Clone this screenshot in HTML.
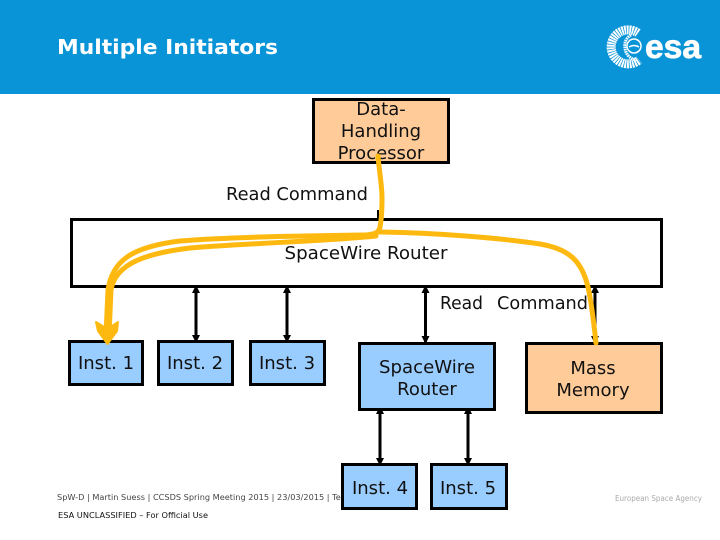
<!DOCTYPE html>
<html>
<head>
<meta charset="utf-8">
<style>
html,body{margin:0;padding:0;background:#fff}
svg{display:block}
text{font-family:"DejaVu Sans","Liberation Sans",sans-serif;fill:#111}
</style>
</head>
<body>
<svg width="720" height="540" viewBox="0 0 720 540" xmlns="http://www.w3.org/2000/svg">
<defs>
<marker id="a" viewBox="0 0 8 8" refX="7" refY="4" markerWidth="8" markerHeight="8" markerUnits="userSpaceOnUse" orient="auto-start-reverse"><path d="M0 0L8 4L0 8z" fill="#000"/></marker>
</defs>
<rect width="720" height="540" fill="#fff"/>
<rect width="720" height="94" fill="#0a94d8"/>
<text x="57" y="54" font-size="20" font-weight="bold" style="fill:#fff" textLength="221" lengthAdjust="spacingAndGlyphs">Multiple Initiators</text>

<!-- logo -->
<g fill="none" stroke="#fff" transform="translate(3,0)">
<path d="M635 33A17 17 0 1 0 636 60" stroke-width="9" stroke-dasharray="1.8 .7"/>
<path d="M628 35A12 12 0 0 0 622 48A13 13 0 0 0 634 60" stroke-width="3" stroke-dasharray="1.6 .7"/>
<circle cx="631" cy="46" r="7" stroke-width="1.500"/>
<path d="M626 47q5-3 10 0" stroke-width="1.500"/>
</g>
<text x="645" y="58" font-size="33" font-weight="bold" style="fill:#fff;stroke:#fff;stroke-width:.7;font-family:'Liberation Sans',sans-serif" textLength="56" lengthAdjust="spacingAndGlyphs">esa</text>

<!-- footer -->
<text x="57" y="500" font-size="8" style="fill:#444" textLength="300" lengthAdjust="spacingAndGlyphs">SpW-D | Martin Suess | CCSDS Spring Meeting 2015 | 23/03/2015 | Terma</text>
<text x="58" y="518" font-size="8" textLength="150" lengthAdjust="spacingAndGlyphs">ESA UNCLASSIFIED – For Official Use</text>
<text x="615" y="501" font-size="8" style="fill:#aaa" textLength="87" lengthAdjust="spacingAndGlyphs">European Space Agency</text>

<!-- connectors -->
<g stroke="#000" stroke-width="3">
<line x1="196" y1="286" x2="196" y2="342" marker-start="url(#a)" marker-end="url(#a)"/>
<line x1="287" y1="286" x2="287" y2="342" marker-start="url(#a)" marker-end="url(#a)"/>
<line x1="425.500" y1="286" x2="425.500" y2="343" marker-start="url(#a)" marker-end="url(#a)"/>
<line x1="595" y1="286" x2="595" y2="343" marker-start="url(#a)" marker-end="url(#a)"/>
<line x1="380" y1="407" x2="380" y2="465" marker-start="url(#a)" marker-end="url(#a)"/>
<line x1="468" y1="407" x2="468" y2="465" marker-start="url(#a)" marker-end="url(#a)"/>
</g>
<line x1="378" y1="210" x2="378" y2="219" stroke="#000" stroke-width="2"/>

<!-- boxes -->
<g stroke="#000" stroke-width="3">
<rect x="313.500" y="99.500" width="135" height="63" fill="#ffcc99"/>
<rect x="71.500" y="219.500" width="590" height="67" fill="#fff"/>
<rect x="69.500" y="341.500" width="73" height="43" fill="#99ccff"/>
<rect x="158.500" y="341.500" width="74" height="43" fill="#99ccff"/>
<rect x="250.500" y="341.500" width="74" height="43" fill="#99ccff"/>
<rect x="359.500" y="343.500" width="135" height="66" fill="#99ccff"/>
<rect x="526.500" y="343.500" width="135" height="69" fill="#ffcc99"/>
<rect x="342.500" y="464.500" width="74" height="44" fill="#99ccff"/>
<rect x="431.500" y="464.500" width="75" height="44" fill="#99ccff"/>
</g>

<!-- labels -->
<g font-size="18" text-anchor="middle">
<text x="381" y="115">Data-</text>
<text x="381" y="137">Handling</text>
<text x="381" y="159">Processor</text>
<text x="297" y="200" textLength="142" lengthAdjust="spacingAndGlyphs">Read Command</text>
<text x="366" y="259" textLength="163" lengthAdjust="spacingAndGlyphs">SpaceWire Router</text>
<text x="461.500" y="309" textLength="43" lengthAdjust="spacingAndGlyphs">Read</text>
<text x="542.500" y="309" textLength="91" lengthAdjust="spacingAndGlyphs">Command</text>
<text x="106" y="369">Inst. 1</text>
<text x="195" y="369">Inst. 2</text>
<text x="287" y="369">Inst. 3</text>
<text x="427" y="373" textLength="96" lengthAdjust="spacingAndGlyphs">SpaceWire</text>
<text x="427" y="395">Router</text>
<text x="593" y="374">Mass</text>
<text x="593" y="396">Memory</text>
<text x="380" y="494">Inst. 4</text>
<text x="468" y="494">Inst. 5</text>
</g>

<!-- yellow paths -->
<g fill="none" stroke="#fdb90f" stroke-linecap="round" stroke-linejoin="round">
<path d="M378 156C379 170 382 185 382 198C382 212 381 222 380 227C379 232 376 234 366 235C300 236 230 237 180 241C130 247 112 262 108 290L106 335" stroke-width="5"/>
<path d="M376 236C330 241 250 243 190 248C140 254 115 266 111 290L109 335" stroke-width="5"/>
<path d="M378 232C440 233 500 238 540 244C570 249 582 262 588 287C592 305 594 325 596 343" stroke-width="5"/>
</g>
<path d="M96 322L107.500 329L118 322L117 331L107.500 344L98 331z" fill="#fdb90f" stroke="#fdb90f" stroke-width="2" stroke-linejoin="round"/>
</svg>
</body>
</html>
